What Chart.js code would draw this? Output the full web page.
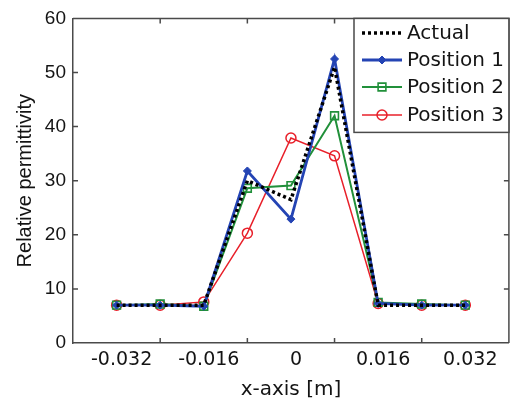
<!DOCTYPE html>
<html>
<head>
<meta charset="utf-8">
<script src="https://cdn.jsdelivr.net/npm/chart.js@4/dist/chart.umd.min.js"></script>
<style>
  html, body { margin: 0; padding: 0; background: #fff; }
  #c { display: block; }
</style>
</head>
<body>
<canvas id="c" width="516" height="405"></canvas>
<script>
// ---- data ----
const xPositions = [-0.032, -0.024, -0.016, -0.008, 0, 0.008, 0.016, 0.024, 0.032];
const actual    = [7, 7, 7, 30, 26.5, 51, 7, 7, 7];
const position1 = [7, 7, 6.8, 31.8, 22.9, 52.5, 7.3, 7, 7];
const position2 = [7, 7.2, 6.8, 28.6, 29.1, 42, 7.5, 7.2, 7];
const position3 = [7, 7, 7.6, 20.3, 37.9, 34.6, 7.3, 7, 7];
const xTickLabels = [-0.032, -0.016, 0, 0.016, 0.032];
const xTickMarks = [-0.024, -0.008, 0.008, 0.024];
const yTickMarks = [10, 20, 30, 40, 50];
const seriesNames = ['Actual', 'Position 1', 'Position 2', 'Position 3'];

const toPts = vals => vals.map((v, i) => ({ x: xPositions[i], y: v }));

const frameColor = '#4a4a4a';
const textColor = '#141414';

const framePlugin = {
  id: 'frame',
  beforeDatasetsDraw(chart) {
    const { ctx, chartArea: a, scales } = chart;
    ctx.save();
    ctx.strokeStyle = frameColor;
    ctx.lineWidth = 1.5;
    ctx.beginPath();
    ctx.moveTo(a.left, a.top); ctx.lineTo(a.right, a.top); ctx.lineTo(a.right, a.bottom);
    for (const v of xTickMarks) {
      const px = scales.x.getPixelForValue(v);
      ctx.moveTo(px, a.bottom); ctx.lineTo(px, a.bottom - 5);
      ctx.moveTo(px, a.top); ctx.lineTo(px, a.top + 5);
    }
    for (const v of yTickMarks) {
      const py = scales.y.getPixelForValue(v);
      ctx.moveTo(a.left, py); ctx.lineTo(a.left + 5, py);
      ctx.moveTo(a.right, py); ctx.lineTo(a.right - 5, py);
    }
    ctx.stroke();
    ctx.restore();
  }
};

const legendPlugin = {
  id: 'customLegend',
  afterDraw(chart) {
    const { ctx, chartArea: a } = chart;
    const x0 = 354, y0 = a.top, w = a.right - 354, h = 114;
    ctx.save();
    ctx.fillStyle = '#fff';
    ctx.fillRect(x0, y0, w, h);
    ctx.strokeStyle = frameColor;
    ctx.lineWidth = 1.5;
    ctx.strokeRect(x0, y0, w, h);
    const rowY = [33, 60, 87, 115];
    chart.data.datasets.forEach((ds, i) => {
      const y = rowY[i];
      ctx.save();
      ctx.strokeStyle = ds.borderColor;
      ctx.lineWidth = ds.borderWidth;
      ctx.setLineDash(ds.borderDash || []);
      ctx.beginPath();
      ctx.moveTo(362, y); ctx.lineTo(402, y);
      ctx.stroke();
      ctx.restore();
      if (ds.pointRadius > 0) {
        ctx.save();
        ctx.strokeStyle = ds.pointBorderColor || ds.borderColor;
        ctx.fillStyle = ds.pointBackgroundColor;
        ctx.lineWidth = ds.pointBorderWidth;
        Chart.helpers.drawPoint(ctx, { pointStyle: ds.pointStyle, radius: ds.pointRadius, rotation: 0, borderWidth: ds.pointBorderWidth }, 382, y);
        ctx.restore();
      }
      ctx.fillStyle = textColor;
      ctx.font = '20px "DejaVu Sans"';
      ctx.textBaseline = 'middle';
      ctx.textAlign = 'left';
      ctx.fillText(seriesNames[i], 407, y + 1);
    });
    ctx.restore();
  }
};

new Chart(document.getElementById('c'), {
  type: 'line',
  data: {
    datasets: [
      { label: seriesNames[0], data: toPts(actual), borderColor: '#000', borderWidth: 3.5, borderDash: [3, 3],
        pointRadius: 0, fill: false, tension: 0 },
      { label: seriesNames[1], data: toPts(position1), borderColor: '#2444b4', borderWidth: 2.8,
        pointStyle: 'rectRot', pointRadius: 4, pointBackgroundColor: '#2444b4', pointBorderColor: '#2444b4', pointBorderWidth: 1, fill: false, tension: 0 },
      { label: seriesNames[2], data: toPts(position2), borderColor: '#21903a', borderWidth: 2,
        pointStyle: 'rect', pointRadius: 5.5, pointBackgroundColor: 'rgba(255,255,255,0)', pointBorderColor: '#21903a', pointBorderWidth: 1.6, fill: false, tension: 0 },
      { label: seriesNames[3], data: toPts(position3), borderColor: '#e8202a', borderWidth: 1.5,
        pointStyle: 'circle', pointRadius: 5, pointBackgroundColor: 'rgba(255,255,255,0)', pointBorderColor: '#e8202a', pointBorderWidth: 1.5, fill: false, tension: 0 }
    ]
  },
  options: {
    responsive: false,
    animation: false,
    devicePixelRatio: 1,
    layout: { padding: { top: 15, right: 2, left: 0, bottom: 0 } },
    plugins: { legend: { display: false }, tooltip: { enabled: false } },
    scales: {
      x: {
        type: 'linear', min: -0.04, max: 0.04,
        afterBuildTicks: s => { s.ticks = xTickLabels.map(v => ({ value: v })); },
        afterFit: s => { s.height = 62; },
        grid: { drawOnChartArea: false, drawTicks: false },
        border: { display: true, color: frameColor, width: 1.5 },
        ticks: {
          autoSkip: false, maxRotation: 0, padding: 6, labelOffset: 5,
          color: textColor, font: { family: 'DejaVu Sans', size: 19 },
          callback: v => (v === 0 ? '0' : v.toFixed(3))
        },
        title: { display: true, text: 'x-axis [m]', color: textColor,
          font: { family: 'DejaVu Sans', size: 20 }, padding: { top: 0, bottom: 3 } }
      },
      y: {
        min: 0, max: 60,
        afterFit: s => { s.width = 73; },
        grid: { drawOnChartArea: false, drawTicks: false },
        border: { display: true, color: frameColor, width: 1.5 },
        ticks: { stepSize: 10, padding: 7, color: textColor, font: { family: 'Liberation Sans', size: 19 } },
        title: { display: true, text: 'Relative permittivity', color: textColor,
          font: { family: 'Liberation Sans', size: 20 }, padding: { top: 13, bottom: 0 } }
      }
    }
  },
  plugins: [framePlugin, legendPlugin]
});
</script>
</body>
</html>
